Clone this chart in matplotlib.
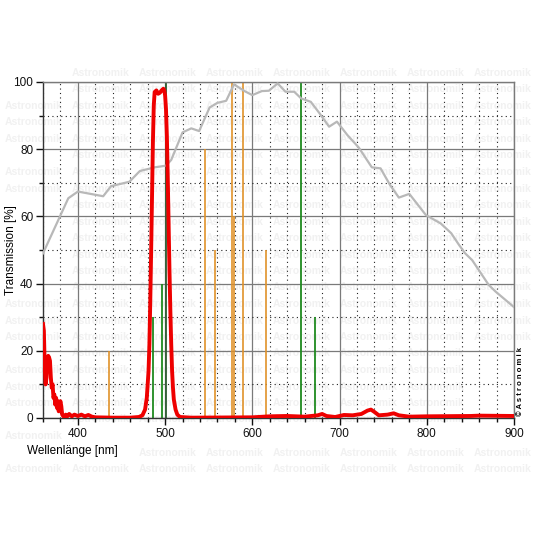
import numpy as np
import matplotlib
matplotlib.use("Agg")
import matplotlib.pyplot as plt
from matplotlib.ticker import MultipleLocator

plt.rcParams['font.family'] = ['Liberation Sans', 'DejaVu Sans']

# filter transmission curve (red)
filter_nm = [360, 361, 362, 363, 364, 365, 366, 367, 368, 369, 370, 371, 372, 373, 374,
             375, 376, 377, 378, 379, 380, 381, 382, 384, 386, 388, 390, 393, 396, 400,
             404, 408, 412, 416, 420, 440, 460, 470, 474, 477, 479, 481, 482, 483, 484,
             485, 486, 487, 488, 490, 492, 494, 496, 498, 499, 500, 501, 502, 503, 504,
             505, 506, 507, 508, 509, 510, 512, 514, 517, 530, 600, 620, 640, 660, 675,
             680, 685, 695, 705, 715, 725, 732, 736, 740, 745, 755, 762, 768, 780, 800,
             850, 860, 900]
filter_T = [28, 26, 15, 10, 12, 17, 18.5, 18, 17, 12, 9, 10, 6, 7, 4,
            6, 3, 5, 2, 4, 5, 3.5, 1, 0.3, 1, 0.5, 1.2, 0.5, 1, 0.6,
            1, 0.5, 0.9, 0.4, 0.2, 0.1, 0.1, 0.3, 0.8, 2.5, 6, 14, 22, 35, 50,
            66, 82, 93, 97, 97.5, 96.5, 96.8, 97.5, 98, 97.5, 96, 92, 84, 72, 58,
            44, 32, 22, 14, 9, 5.5, 2.5, 1, 0.3, 0.1, 0.2, 0.5, 0.6, 0.4, 0.8,
            1.2, 0.6, 0.3, 0.9, 0.8, 1.2, 2.2, 2.5, 1.8, 0.8, 1.0, 1.4, 0.8, 0.4, 0.5,
            0.6, 0.7, 0.6]

# sensor response curve (gray)
sensor_nm = [360, 389, 400, 429, 438, 459, 471, 488, 501, 507, 520, 530, 539, 551, 560,
             570, 579, 591, 600, 611, 619, 629, 638, 648, 656, 667, 677, 688, 697, 709,
             722, 737, 747, 758, 768, 780, 799, 816, 828, 837, 844, 852, 871, 879, 900]
sensor_T = [49, 65.4, 67.4, 66, 69, 70.3, 73.5, 74.6, 75.1, 76.8, 85, 86.2, 85.4, 92.4, 93.8,
            94.4, 99.3, 97.3, 96.1, 97.3, 97.4, 99.6, 97.1, 97.1, 95.1, 94.1, 90.7, 86.7, 88.2, 84.2,
            80.5, 74.6, 74.3, 69.3, 65.6, 66.7, 60.4, 57.9, 55, 51.5, 49, 47, 39.6, 37.6, 33]

# light pollution lines (orange) and emission lines (green)
lp_nm = [435.8, 545.5, 557.3, 577.0, 579.0, 589.0, 615.5]
lp_height = [20, 80, 50, 100, 60, 100, 50]
em_nm = [486.1, 495.9, 656.3, 671.8]
em_height = [30, 40, 100, 30]
oiii_nm = 500.7
oiii_height = 100

fig = plt.figure(figsize=(5.33, 5.33), dpi=100)

ax = fig.add_axes([43 / 533, 1 - 418 / 533, 471 / 533, 336 / 533])
ax.patch.set_alpha(0)
ax.set_xlim(360, 900)
ax.set_ylim(0, 100)

ax.xaxis.set_major_locator(MultipleLocator(100))
ax.xaxis.set_minor_locator(MultipleLocator(20))
ax.yaxis.set_major_locator(MultipleLocator(20))
ax.yaxis.set_minor_locator(MultipleLocator(10))
ax.grid(which='major', color='#7a7a7a', linestyle='-', linewidth=0.9)
ax.grid(which='minor', color='#222222', linestyle=(0, (1, 3)), linewidth=0.8)
ax.set_axisbelow(True)

ax.vlines(lp_nm, 0, lp_height, color='#e0922a', linewidth=1.2, zorder=2)
ax.vlines(em_nm, 0, em_height, color='#1f8a1f', linewidth=1.3, zorder=2)
ax.vlines(oiii_nm, 0, oiii_height, color='#2f5f32', linewidth=1.3, zorder=2)

ax.plot(sensor_nm, sensor_T, color='#b8b8b8', linewidth=1.6, zorder=3)
ax.plot(filter_nm, filter_T, color='#ee0000', linewidth=2.8, zorder=4,
        solid_joinstyle='round')

for s in ax.spines.values():
    s.set_color('#333333')
    s.set_linewidth(1.0)
ax.spines['right'].set_color('#7a7a7a')
ax.spines['top'].set_color('#7a7a7a')

ax.tick_params(which='major', direction='out', length=5, width=1, labelsize=8.5,
               colors='#111111', pad=2)
ax.tick_params(which='minor', direction='out', length=3, width=1, colors='#111111')
ax.set_xticks([400, 500, 600, 700, 800, 900])
ax.set_xticklabels(['400', '500', '600', '700', '800', '900'])

labels = [
    fig.text(27 / 533, 1 - 451 / 533, 'Wellenlänge [nm]', fontsize=8.5, ha='left', va='center'),
    fig.text(11 / 533, 1 - 250 / 533, 'Transmission [%]', fontsize=8.5, rotation=90,
             ha='center', va='center'),
    fig.text(521 / 533, 1 - 381 / 533, '© A s t r o n o m i k', fontsize=5.5,
             fontweight='bold', rotation=90, ha='center', va='center'),
]

# faint watermark pattern behind everything, left out where a real label sits
fig.canvas.draw()
renderer = fig.canvas.get_renderer()
busy = [t.get_window_extent(renderer) for t in labels]
busy += [t.get_window_extent(renderer) for t in ax.get_xticklabels() + ax.get_yticklabels()]
for row in np.arange(73, 475, 16.5):
    for col in np.arange(5, 533, 67):
        wm = fig.text(col / 533, 1 - row / 533, 'Astronomik', fontsize=7.5, fontweight='bold',
                      color='#f1f1f1', ha='left', va='center', zorder=-5)
        box = wm.get_window_extent(renderer)
        if any(box.overlaps(b) for b in busy):
            wm.remove()

fig.savefig('out.png', dpi=100)
